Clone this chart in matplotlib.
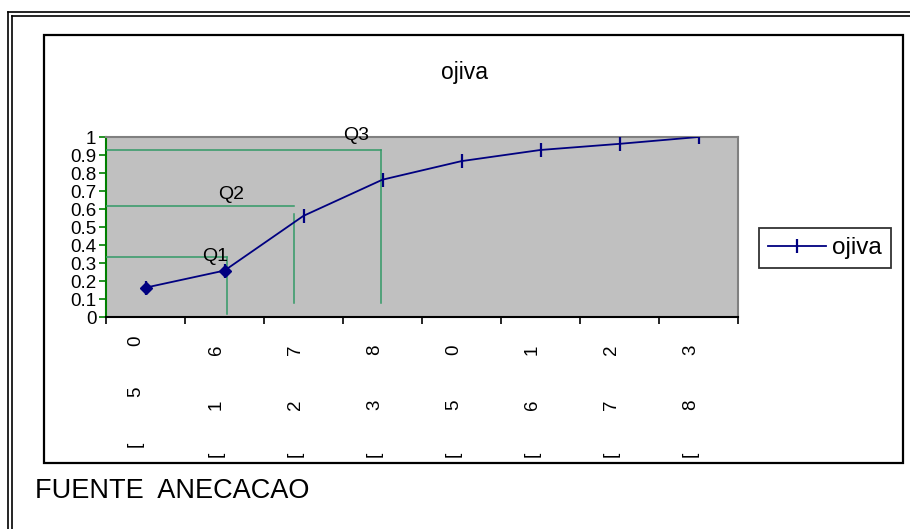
import matplotlib.pyplot as plt
from matplotlib.lines import Line2D
from matplotlib.patches import Rectangle

plt.rcParams['font.family'] = ['Liberation Sans', 'DejaVu Sans']

# data
categories = ['[50', '[16', '[27', '[38', '[50', '[61', '[72', '[83']
ojiva = [0.163, 0.258, 0.562, 0.763, 0.866, 0.928, 0.962, 1.0]
y_ticks = [0, 0.1, 0.2, 0.3, 0.4, 0.5, 0.6, 0.7, 0.8, 0.9, 1.0]
y_tick_labels = ['0', '0.1', '0.2', '0.3', '0.4', '0.5', '0.6', '0.7', '0.8', '0.9', '1']

# quartile guides: label, level, x position (category units), ends of vertical line
q_labels = ['Q1', 'Q2', 'Q3']
q_levels = [0.333, 0.617, 0.928]
q_x = [1.03, 1.88, 2.98]
q_vtop = [0.333, 0.572, 0.928]
q_vbottom = [0.017, 0.078, 0.078]

W, H = 910, 529
fig = plt.figure(figsize=(W / 100, H / 100), dpi=100)


def fx(px):
    return px / W


def fy(py):
    return 1 - py / H


# double frame (top and left only)
frame_kw = dict(color='black', lw=1.2, transform=fig.transFigure)
fig.add_artist(Line2D([fx(8), 1], [fy(12), fy(12)], **frame_kw))
fig.add_artist(Line2D([fx(12), 1], [fy(15.5), fy(15.5)], **frame_kw))
fig.add_artist(Line2D([fx(8), fx(8)], [fy(12), 0], **frame_kw))
fig.add_artist(Line2D([fx(12), fx(12)], [fy(15.5), 0], **frame_kw))

# chart area box
fig.add_artist(Rectangle((fx(44), fy(463)), fx(903) - fx(44), fy(35) - fy(463),
                         fill=False, edgecolor='black', lw=1.6, transform=fig.transFigure))

ax = fig.add_axes([fx(106), fy(317), fx(738) - fx(106), fy(137) - fy(317)])
ax.set_facecolor('#C0C0C0')

x = list(range(len(ojiva)))
ax.plot(x, ojiva, color='#000080', lw=1.3, marker='|', ms=10, mew=1.6, label='ojiva', zorder=4)
ax.plot(x[:2], ojiva[:2], linestyle='none', marker='D', ms=6, color='#000080', zorder=5)

green = '#339966'
for lev, qx, vt, vb in zip(q_levels, q_x, q_vtop, q_vbottom):
    ax.plot([-0.5, qx], [lev, lev], color=green, lw=1.1, zorder=3)
    ax.plot([qx, qx], [vt, vb], color=green, lw=1.1, zorder=3)

q_text_pos = [(0.88, 0.335), (1.08, 0.68), (2.66, 1.01)]
for lab, (tx, ty) in zip(q_labels, q_text_pos):
    ax.text(tx, ty, lab, ha='center', va='center', fontsize=14, zorder=6, clip_on=False)

ax.set_xlim(-0.5, len(ojiva) - 0.5)
ax.set_ylim(0, 1)
ax.set_yticks(y_ticks)
ax.set_yticklabels(y_tick_labels, fontsize=13.5)
ax.set_xticks([i - 0.5 for i in range(len(ojiva) + 1)])
ax.set_xticklabels([])
ax.tick_params(axis='y', direction='out', length=5, width=1.2, colors='#008000', labelcolor='black', pad=2)
ax.tick_params(axis='x', direction='out', length=5, width=1.2, color='black')

ax.spines['left'].set_color('#008000')
ax.spines['left'].set_linewidth(1.5)
ax.spines['bottom'].set_color('black')
ax.spines['bottom'].set_linewidth(1.5)
for s in ['top', 'right']:
    ax.spines[s].set_color('#808080')
    ax.spines[s].set_linewidth(1.5)

# category labels, rotated, one character per line (Excel style)
for i, lab in enumerate(categories):
    offs = [127, 75, 24] if i == 0 else [137, 88, 33]
    dx = -10 if i == 0 else -8
    for ch, off in zip(lab, offs):
        ax.annotate(ch, xy=(i, 0), xycoords=('data', 'axes fraction'),
                    xytext=(dx, -off), textcoords='offset pixels',
                    rotation=90, ha='center', va='center', fontsize=13.5)

fig.text(fx(465), fy(72), 'ojiva', ha='center', va='center', fontsize=16.5)

leg = ax.legend(loc='center', bbox_to_anchor=(fx(825), fy(248)), bbox_transform=fig.transFigure,
                fontsize=17.5, frameon=True, fancybox=False, edgecolor='black',
                handlelength=2.4, handletextpad=0.25, borderpad=0.38, borderaxespad=0)
leg.get_frame().set_linewidth(1.3)

fig.text(fx(35), fy(491), 'FUENTE  ANECACAO', ha='left', va='center', fontsize=19.5)

fig.savefig('out.png', dpi=100)
